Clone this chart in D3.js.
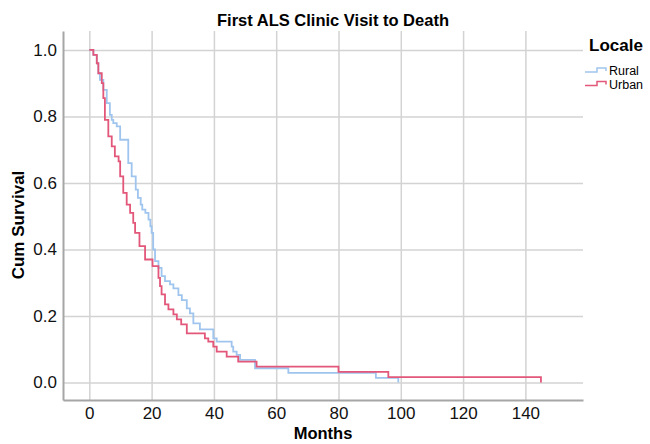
<!DOCTYPE html>
<html>
<head>
<meta charset="utf-8">
<script src="https://cdn.jsdelivr.net/npm/d3@7"></script>
<style>
  body { margin: 0; background: #fff; }
  text { font-family: "Liberation Sans", Arial, sans-serif; }
</style>
</head>
<body>
<script>
// Kaplan-Meier steps: [month, cum survival]
var rural = [
    [0, 1.0], [1.3, 0.985], [2.4, 0.96], [2.9, 0.93], [3.4, 0.91], [4.5, 0.88],
    [5.6, 0.84], [6.6, 0.805], [7.2, 0.79], [7.7, 0.78], [8.8, 0.77], [9.9, 0.73],
    [12.5, 0.66], [13.6, 0.62], [14.9, 0.58], [15.6, 0.555], [16.5, 0.535],
    [17.0, 0.52], [18.0, 0.51], [19.0, 0.49], [19.6, 0.47], [20.0, 0.45],
    [20.5, 0.40], [21.1, 0.365], [22.2, 0.345], [23.2, 0.32], [24.3, 0.305],
    [25.9, 0.295], [27.0, 0.283], [28.6, 0.263], [29.7, 0.248], [31.3, 0.223],
    [32.3, 0.208], [33.4, 0.178], [35.5, 0.16], [39.8, 0.133], [40.9, 0.123],
    [45.7, 0.108], [46.2, 0.093], [47.3, 0.083], [48.4, 0.068], [53.2, 0.043],
    [63.9, 0.029], [92.0, 0.014], [99.2, 0.0]
];
var urban = [
    [0, 1.0], [1.3, 0.985], [2.4, 0.96], [2.9, 0.93], [4.0, 0.90], [4.5, 0.855],
    [5.0, 0.79], [6.1, 0.74], [7.2, 0.71], [8.2, 0.68], [9.4, 0.665], [9.9, 0.62],
    [10.9, 0.57], [12.0, 0.535], [13.1, 0.51], [14.1, 0.48], [14.7, 0.45],
    [16.1, 0.41], [17.9, 0.37], [20.3, 0.35], [22.2, 0.315], [22.7, 0.29],
    [23.2, 0.265], [24.3, 0.235], [25.4, 0.22], [27.0, 0.205], [28.1, 0.19],
    [29.5, 0.175], [31.3, 0.148], [37.1, 0.133], [38.2, 0.123], [39.8, 0.108],
    [40.9, 0.093], [44.1, 0.078], [47.8, 0.063], [53.7, 0.048], [80.0, 0.032],
    [96.0, 0.016], [145.0, 0.0]
];
var xTicks = [0, 20, 40, 60, 80, 100, 120, 140];
var yTicks = [0, 0.2, 0.4, 0.6, 0.8, 1.0];
var seriesNames = ["Rural", "Urban"];
var seriesColors = ["#9fc5ee", "#e2577a"];

var width = 650, height = 444;
var plot = {left: 63, right: 583, top: 31, bottom: 400};

var svg = d3.select("body").append("svg")
    .attr("width", width)
    .attr("height", height);

var x = d3.scaleLinear().domain([-8.45, 158.5]).range([plot.left, plot.right]);
var y = d3.scaleLinear().domain([-0.0525, 1.057]).range([plot.bottom, plot.top]);

// grid lines
svg.append("g")
    .attr("transform", "translate(0," + plot.bottom + ")")
    .call(d3.axisBottom(x).tickValues(xTicks).tickSize(-(plot.bottom - plot.top)).tickFormat(""))
    .call(g => g.select(".domain").remove())
    .call(g => g.selectAll("line").attr("stroke", "#d3d3d3").attr("stroke-width", 1.5));

svg.append("g")
    .attr("transform", "translate(" + plot.left + ",0)")
    .call(d3.axisLeft(y).tickValues(yTicks).tickSize(-(plot.right - plot.left)).tickFormat(""))
    .call(g => g.select(".domain").remove())
    .call(g => g.selectAll("line").attr("stroke", "#d3d3d3").attr("stroke-width", 1.5));

// axes
var xAxis = svg.append("g")
    .attr("transform", "translate(0," + plot.bottom + ")")
    .call(d3.axisBottom(x).tickValues(xTicks).tickSize(0).tickPadding(7));
var yAxis = svg.append("g")
    .attr("transform", "translate(" + plot.left + ",0)")
    .call(d3.axisLeft(y).tickValues(yTicks).tickSize(0).tickPadding(6).tickFormat(d3.format(".1f")));

[xAxis, yAxis].forEach(function (g) {
    g.select(".domain").attr("stroke", "#a6a6a6").attr("stroke-width", 2);
    g.selectAll("text").attr("font-size", 17).attr("fill", "#111")
        .style("font-family", "'Liberation Sans', Arial, sans-serif");
});

// survival curves
var stepLine = d3.line()
    .x(d => x(d[0]))
    .y(d => y(d[1]))
    .curve(d3.curveStepAfter);

[rural, urban].forEach(function (data, i) {
    svg.append("path")
        .attr("d", stepLine(data))
        .attr("fill", "none")
        .attr("stroke", seriesColors[i])
        .attr("stroke-width", 1.8);
});

// titles
svg.append("text")
    .attr("x", 333).attr("y", 26)
    .attr("text-anchor", "middle")
    .attr("font-size", 16.5).attr("font-weight", "bold")
    .text("First ALS Clinic Visit to Death");

svg.append("text")
    .attr("x", (plot.left + plot.right) / 2).attr("y", 439)
    .attr("text-anchor", "middle")
    .attr("font-size", 16.5).attr("font-weight", "bold")
    .text("Months");

svg.append("text")
    .attr("transform", "translate(24,225) rotate(-90)")
    .attr("text-anchor", "middle")
    .attr("font-size", 17).attr("font-weight", "bold")
    .text("Cum Survival");

// legend
svg.append("text")
    .attr("x", 589).attr("y", 51)
    .attr("font-size", 17).attr("font-weight", "bold")
    .text("Locale");

var symbol = [[0, 0], [12, 0], [12, -4], [21, -4], [21, -1]];
var symLine = d3.line();
seriesNames.forEach(function (name, i) {
    var yy = 72 + i * 13.5;
    svg.append("path")
        .attr("d", symLine(symbol.map(p => [585 + p[0], yy + p[1]])))
        .attr("fill", "none")
        .attr("stroke", seriesColors[i])
        .attr("stroke-width", 1.5);
    svg.append("text")
        .attr("x", 609).attr("y", yy + 3)
        .attr("font-size", 12.5)
        .text(name);
});
</script>
</body>
</html>
